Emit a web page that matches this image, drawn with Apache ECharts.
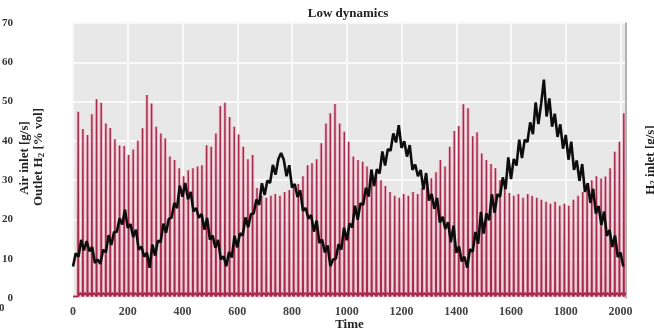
<!DOCTYPE html>
<html>
<head>
<meta charset="utf-8">
<script src="https://cdn.jsdelivr.net/npm/echarts@6/dist/echarts.min.js"></script>
<style>
  html, body { margin: 0; padding: 0; background: #ffffff; }
  #chart { width: 654px; height: 331px; }
</style>
</head>
<body>
<div id="chart"></div>
<script>
// Air inlet pulses: time of each pulse and its peak value [g/s]
const airPulseTimes = [19,36,53,69,86,103,120,136,153,170,187,203,220,237,254,270,287,304,321,337,354,371,388,404,421,438,455,471,488,505,522,538,555,572,589,605,622,639,656,672,689,706,723,739,756,773,790,806,823,840,857,873,890,907,924,940,957,974,991,1007,1024,1041,1058,1074,1091,1108,1125,1141,1158,1175,1192,1208,1225,1242,1259,1275,1292,1309,1326,1342,1359,1376,1393,1409,1426,1443,1460,1476,1493,1510,1527,1543,1560,1577,1594,1610,1627,1644,1661,1677,1694,1711,1728,1744,1761,1778,1795,1811,1828,1845,1862,1878,1895,1912,1929,1945,1962,1979,1996,2012];
const airPulsePeaks = [
  47.4, 43.0, 41.5, 46.8, 50.6, 49.7, 44.4, 43.3, 40.4, 38.8, 38.7, 36.4, 37.8, 40.0, 43.2, 51.7, 49.5, 43.6, 41.9, 40.6, 36.0, 35.1, 33.0,
  31.0, 32.5, 33.0, 33.5, 33.8, 38.9, 38.5, 41.9, 48.9, 49.7, 46.1, 43.6, 41.6, 38.5, 35.3, 36.4,
  28.0, 26.0, 25.5, 26.0, 26.5, 26.0, 27.0, 27.5, 28.0, 29.0, 31.0, 33.8, 34.3, 35.3, 39.4, 44.4, 47.0, 49.4, 44.4, 42.3, 39.8, 36.0, 35.1, 34.7,
  33.5, 32.5, 31.0, 30.0, 28.5, 27.0, 26.0, 25.5, 26.5, 26.0, 27.0, 26.5, 28.0, 28.5, 30.5, 32.0,
  35.1, 33.5, 38.5, 42.5, 43.8, 49.3, 48.3, 41.2, 42.2, 36.8, 35.1, 34.1,
  33.0, 30.0, 28.0, 26.7, 26.0, 26.5, 25.5, 26.5, 26.0, 25.5, 25.0, 24.5, 24.0, 24.5, 23.5, 24.0, 23.5, 25.0, 26.0, 27.0,
  28.5, 30.0, 31.0, 30.4, 30.9, 33.0, 37.2, 39.8, 47.0
];
// level between pulses and the small rebound after each pulse
const airIdle = 0.4;
const airRebound = 1.4;

// Outlet H2 concentration [% vol], sampled every 10 time units from t = 0
const h2SampleStep = 10;
const h2Outlet = [
  8.0, 11.4, 10.5, 14.8, 12.1, 14.5, 11.9, 13.0, 8.9, 9.8,
  8.7, 12.3, 11.6, 16.0, 13.5, 16.8, 16.8, 20.3, 18.7, 22.5,
  17.8, 18.8, 15.5, 17.4, 12.3, 13.1, 10.5, 11.5, 7.7, 13.6,
  10.8, 14.6, 14.2, 18.9, 16.6, 20.2, 20.4, 24.2, 22.9, 28.6,
  25.8, 29.3, 25.1, 27.0, 22.0, 22.9, 20.4, 21.4, 17.4, 20.4,
  14.9, 15.9, 12.8, 14.8, 9.8, 10.6, 8.1, 11.7, 10.3, 15.8,
  12.9, 16.5, 15.9, 20.5, 18.0, 21.4, 21.5, 25.1, 23.7, 29.2,
  26.2, 29.9, 29.3, 33.9, 31.4, 35.3, 36.9, 35.2, 31.0, 33.8,
  28.1, 29.0, 25.7, 27.4, 22.2, 22.9, 20.2, 21.1, 16.9, 19.7,
  14.0, 14.9, 11.6, 13.4, 8.1, 9.8, 10.0, 13.7, 12.3, 17.9,
  14.7, 19.0, 17.9, 23.5, 19.9, 24.1, 23.7, 28.1, 25.8, 32.7,
  28.5, 32.8, 31.7, 37.3, 33.7, 37.9, 37.5, 41.9, 39.6, 44.0,
  38.2, 39.9, 36.0, 38.9, 32.6, 34.0, 31.0, 32.6, 27.6, 31.8,
  24.8, 26.5, 22.7, 25.5, 19.2, 20.7, 17.6, 19.3, 14.2, 18.4,
  11.5, 13.1, 9.3, 10.5, 7.7, 12.4, 11.8, 16.8, 13.8, 21.9,
  16.4, 21.5, 19.8, 26.4, 21.7, 26.4, 25.8, 30.7, 27.7, 35.8,
  30.3, 35.4, 33.7, 40.3, 35.6, 40.3, 39.7, 44.7, 41.7, 49.8,
  44.3, 49.4, 55.6, 46.2, 50.8, 43.6, 46.9, 41.0, 44.2, 38.0,
  41.5, 35.2, 39.8, 32.6, 35.0, 29.8, 34.1, 27.0, 29.2, 24.2,
  27.8, 21.5, 23.4, 18.6, 22.0, 15.8, 17.3, 13.0, 15.9, 10.4,
  11.6, 8.0
];

// Axis settings
const timeMax = 2020;
const timeTickStep = 200;
const yMax = 70;
const yTickStep = 10;

const SERIF = '"Liberation Serif", "Times New Roman", serif';

// Build the pulse train: idle level, sharp rise to the peak, back to idle, small rebound
const airLine = [[0, airIdle]];
airPulseTimes.forEach((t, i) => {
  airLine.push([t - 1.2, airIdle]);
  airLine.push([t, airPulsePeaks[i]]);
  airLine.push([t + 1.2, airIdle]);
  airLine.push([t + 8, airRebound]);
});

const h2Line = h2Outlet.map((v, i) => [i * h2SampleStep, v]);

const chart = echarts.init(document.getElementById('chart'), null, { renderer: 'canvas' });

chart.setOption({
  animation: false,
  backgroundColor: '#ffffff',
  grid: {
    left: 73, right: 28, top: 23, bottom: 33,
    containLabel: false,
    outerBoundsMode: 'none',
    show: true,
    backgroundColor: '#e8e8e8',
    borderColor: '#d8d8d8',
    borderWidth: 1
  },
  xAxis: {
    type: 'value',
    min: 0,
    max: timeMax,
    interval: timeTickStep,
    name: 'Time',
    nameLocation: 'middle',
    nameGap: 20,
    nameMoveOverlap: false,
    nameTextStyle: { fontFamily: SERIF, fontWeight: 'bold', fontSize: 13, color: '#222' },
    axisLine: { show: false },
    axisTick: { show: false },
    axisLabel: {
      showMaxLabel: false,
      margin: 8,
      formatter: v => String(v),
      fontFamily: SERIF, fontWeight: 'bold', fontSize: 12, color: '#444'
    },
    splitLine: { show: true, lineStyle: { color: '#ffffff', width: 1.5 } }
  },
  yAxis: [
    {
      type: 'value',
      min: 0,
      max: yMax,
      interval: yTickStep,
      axisLine: { show: false },
      axisTick: { show: false },
      axisLabel: {
        margin: 60,
        fontFamily: SERIF, fontWeight: 'bold', fontSize: 11, color: '#333'
      },
      splitLine: { show: true, lineStyle: { color: '#ffffff', width: 1.5 } }
    },
    {
      type: 'value',
      position: 'right',
      min: 0,
      max: yMax,
      interval: yTickStep,
      axisLine: { show: true, lineStyle: { color: '#9a9a9a', width: 1.5 } },
      axisTick: { show: false },
      axisLabel: { show: false },
      splitLine: { show: false }
    }
  ],
  series: [
    {
      name: 'Air inlet halo',
      type: 'line',
      data: airLine,
      showSymbol: false,
      silent: true,
      lineStyle: { color: 'rgba(236,170,188,0.75)', width: 3.2 },
      z: 2
    },
    {
      name: 'Air inlet',
      type: 'line',
      data: airLine,
      showSymbol: false,
      silent: true,
      lineStyle: { color: '#a52a4c', width: 1.4 },
      z: 3
    },
    {
      name: 'Outlet H2',
      type: 'line',
      data: h2Line,
      showSymbol: false,
      silent: true,
      lineStyle: { color: '#0d0d0d', width: 2.6 },
      z: 4
    }
  ],
  graphic: [
    {
      type: 'text', x: 348, y: 14,
      style: { text: 'Low dynamics', font: 'bold 13px ' + SERIF, fill: '#222', align: 'center', verticalAlign: 'middle' }
    },
    {
      type: 'text', x: 25, y: 158, rotation: Math.PI / 2,
      style: { text: 'Air inlet [g/s]', font: 'bold 13px ' + SERIF, fill: '#222', align: 'center', verticalAlign: 'middle' }
    },
    {
      type: 'text', x: 39, y: 157, rotation: Math.PI / 2,
      style: {
        text: '{b|Outlet H}{s|2}{b| [% vol]}',
        align: 'center', verticalAlign: 'middle',
        rich: {
          b: { font: 'bold 13px ' + SERIF, fill: '#222' },
          s: { font: 'bold 9px ' + SERIF, fill: '#222', padding: [6, 0, 0, 0] }
        }
      }
    },
    {
      type: 'text', x: 651, y: 160, rotation: Math.PI / 2,
      style: {
        text: '{b|H}{s|2}{b| inlet [g/s]}',
        align: 'center', verticalAlign: 'middle',
        rich: {
          b: { font: 'bold 13px ' + SERIF, fill: '#222' },
          s: { font: 'bold 9px ' + SERIF, fill: '#222', padding: [6, 0, 0, 0] }
        }
      }
    },
    {
      type: 'text', x: -1, y: 308,
      style: { text: '0', font: 'bold 11px ' + SERIF, fill: '#333', align: 'left', verticalAlign: 'middle' }
    }
  ]
});
</script>
</body>
</html>
